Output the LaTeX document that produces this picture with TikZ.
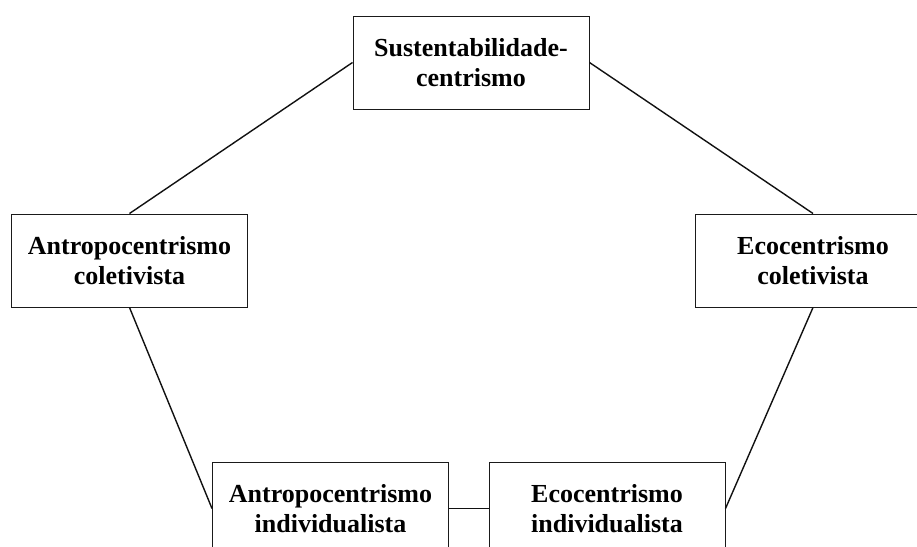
\documentclass[tikz,border=0pt]{standalone}
\usepackage{fontspec}
\setmainfont{Liberation Serif}
\usepackage{xcolor}
\definecolor{BoxLine}{HTML}{1A1A1A}
\definecolor{LinkLine}{HTML}{111111}

\begin{document}
\begin{tikzpicture}[x=1pt, y=-1pt,
		box/.style={draw=BoxLine, line width=1pt, fill=white, minimum width=236pt, minimum height=93pt, inner sep=0pt, align=center, font=\fontsize{26}{30}\selectfont\bfseries},
		link/.style={draw=LinkLine, line width=1.4pt}]
		% Frame
		\useasboundingbox (0,0) rectangle (917,546);
		\clip (0,0) rectangle (917,546);
		
		% Boxes
		\node[box] (sust) at (471,62.5) {Sustentabilidade-\\centrismo};
		\node[box] (antcol) at (129.5,260.5) {Antropocentrismo\\coletivista};
		\node[box] (ecocol) at (813,260.5) {Ecocentrismo\\coletivista};
		\node[box] (antind) at (330.5,508.5) {Antropocentrismo\\individualista};
		\node[box] (ecoind) at (607,508.5) {Ecocentrismo\\individualista};
		
		% Links
		\draw[link] (sust.west) -- (antcol.north);
		\draw[link] (sust.east) -- (ecocol.north);
		\draw[link] (antcol.south) -- (antind.west);
		\draw[link] (ecocol.south) -- (ecoind.east);
		\draw[link] (antind.east) -- (ecoind.west);
	\end{tikzpicture}
\end{document}
